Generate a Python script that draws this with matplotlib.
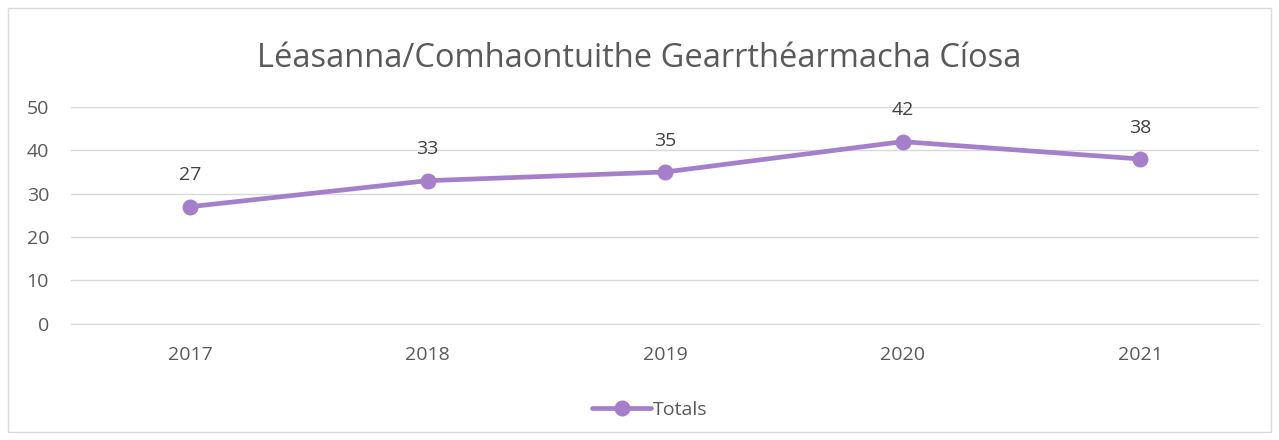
import matplotlib.pyplot as plt
from matplotlib.patches import Rectangle

years = ['2017', '2018', '2019', '2020', '2021']
totals = [27, 33, 35, 42, 38]

plt.rcParams['font.family'] = ['Open Sans', 'DejaVu Sans']
purple = '#a67fcb'
grey = '#595959'

fig = plt.figure(figsize=(12.79, 4.40), dpi=100)
ax = fig.add_axes([0.0557, 0.264, 0.9286, 0.493])

x = list(range(len(years)))
ax.plot(x, totals, color=purple, linewidth=3.4, marker='o', markersize=10.5,
        label='Totals', solid_capstyle='round')
for xi, v in zip(x, totals):
    ax.annotate(str(v), (xi, v), xytext=(0, 16), textcoords='offset points',
                ha='center', va='bottom', fontsize=14, color='#404040')

ax.set_xlim(-0.5, len(years) - 0.5)
ax.set_ylim(0, 50)
ax.set_yticks([0, 10, 20, 30, 40, 50])
ax.set_xticks(x)
ax.set_xticklabels(years)
ax.tick_params(axis='both', length=0, labelsize=14, labelcolor=grey)
ax.tick_params(axis='x', pad=16)
ax.tick_params(axis='y', pad=16)
ax.grid(axis='y', color='#d9d9d9', linewidth=1)
ax.set_axisbelow(True)
for s in ['top', 'right', 'left']:
    ax.spines[s].set_visible(False)
ax.spines['bottom'].set_color('#d9d9d9')

fig.text(0.5, 0.868, 'Léasanna/Comhaontuithe Gearrthéarmacha Cíosa',
         ha='center', va='center', fontsize=23.5, color=grey)

fig.legend(loc='center', bbox_to_anchor=(0.508, 0.068), frameon=False,
           fontsize=14, labelcolor=grey, handlelength=3.0, handletextpad=0.1)

fig.patches.append(Rectangle((0.006, 0.018), 0.988, 0.964, transform=fig.transFigure,
                             fill=False, edgecolor='#d9d9d9', linewidth=1))

fig.savefig('out.png', dpi=100)
